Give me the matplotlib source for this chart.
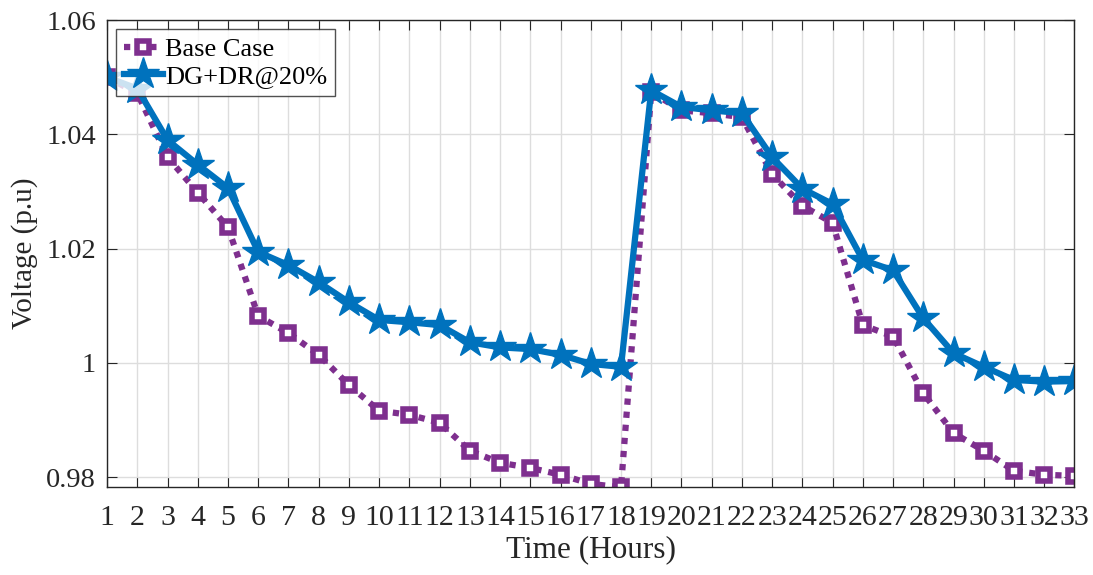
import numpy as np
import matplotlib
matplotlib.use("Agg")
import matplotlib.pyplot as plt

plt.rcParams['font.family'] = ['Liberation Serif', 'DejaVu Serif']

# data
hours = np.arange(1, 34)
base_case = [1.0500, 1.0472, 1.0360, 1.0298, 1.0237, 1.0082, 1.0052, 1.0014, 0.9961,
             0.9916, 0.9909, 0.9895, 0.9846, 0.9825, 0.9816, 0.9804, 0.9788, 0.9782,
             1.0474, 1.0442, 1.0437, 1.0430, 1.0330, 1.0275, 1.0245, 1.0066, 1.0046,
             0.9947, 0.9877, 0.9846, 0.9811, 0.9804, 0.9802]
dg_dr = [1.0500, 1.0480, 1.0390, 1.0347, 1.0306, 1.0194, 1.0171, 1.0141, 1.0106,
         1.0075, 1.0071, 1.0066, 1.0036, 1.0027, 1.0024, 1.0014, 0.9998, 0.9993,
         1.0477, 1.0448, 1.0442, 1.0437, 1.0360, 1.0305, 1.0278, 1.0180, 1.0162,
         1.0078, 1.0017, 0.9993, 0.9970, 0.9967, 0.9968]
yticks = [0.98, 1.0, 1.02, 1.04, 1.06]
ytick_labels = ['0.98', '1', '1.02', '1.04', '1.06']

purple = '#7E2F8E'
blue = '#0072BD'

fig = plt.figure(figsize=(10.93, 5.75), dpi=100)
ax = fig.add_axes([0.098, 0.153, 0.885, 0.812])

ax.plot(hours, base_case, linestyle=(0, (1.0, 1.1)), color=purple, linewidth=4.5,
        marker='s', markersize=9, markerfacecolor='white',
        markeredgecolor=purple, markeredgewidth=4, label='Base Case')
ax.plot(hours, dg_dr, linestyle='-', color=blue, linewidth=4.5,
        marker='*', markersize=24, markerfacecolor=blue,
        markeredgecolor=blue, label='DG+DR@20%')

ax.set_xlim(1, 33)
ax.set_ylim(0.97825, 1.06)
ax.set_xticks(hours)
ax.set_xticklabels([str(h) for h in hours])
ax.set_yticks(yticks)
ax.set_yticklabels(ytick_labels)

ax.grid(True, color='#dddddd', linewidth=1)
ax.set_axisbelow(True)
ax.tick_params(direction='in', top=True, right=True, length=7,
               labelsize=21.5, colors='#262626')
ax.tick_params(axis='x', pad=13)
ax.tick_params(axis='y', pad=8, labelsize=20.5)
for s in ax.spines.values():
    s.set_color('#262626')
    s.set_linewidth(1)

ax.set_xlabel('Time (Hours)', fontsize=22.5, color='#262626', labelpad=3)
ax.set_ylabel('Voltage (p.u)', fontsize=21, color='#262626', labelpad=6)

leg = ax.legend(loc='upper left', fontsize=19, frameon=True, fancybox=False,
                edgecolor='#262626', borderpad=0.3, handlelength=1.45,
                handletextpad=0.1, labelspacing=0.15, borderaxespad=0.35)
leg.get_frame().set_linewidth(1)

fig.savefig('out.png', dpi=100)
